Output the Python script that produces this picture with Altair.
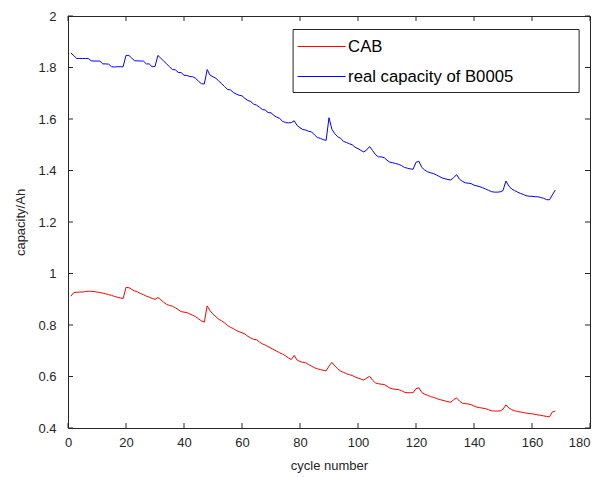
import altair as alt
import pandas as pd

# ---------------- data ----------------
cycles = list(range(1, 169))

real_capacity = [
    1.856, 1.846, 1.835, 1.835, 1.835, 1.835, 1.835, 1.826, 1.825, 1.825,
    1.825, 1.814, 1.814, 1.813, 1.803, 1.802, 1.803, 1.803, 1.803, 1.847,
    1.847, 1.836, 1.826, 1.826, 1.825, 1.825, 1.814, 1.814, 1.803, 1.804,
    1.847, 1.836, 1.825, 1.814, 1.803, 1.792, 1.791, 1.781, 1.780, 1.770,
    1.769, 1.765, 1.764, 1.758, 1.747, 1.737, 1.736, 1.792, 1.770, 1.764,
    1.758, 1.747, 1.737, 1.726, 1.715, 1.713, 1.703, 1.697, 1.692, 1.690,
    1.680, 1.672, 1.668, 1.658, 1.654, 1.646, 1.637, 1.635, 1.625, 1.624,
    1.614, 1.607, 1.602, 1.591, 1.586, 1.585, 1.586, 1.593, 1.575, 1.566,
    1.559, 1.557, 1.552, 1.550, 1.538, 1.528, 1.525, 1.520, 1.517, 1.605,
    1.560, 1.543, 1.531, 1.525, 1.513, 1.509, 1.504, 1.500, 1.490, 1.485,
    1.478, 1.472, 1.480, 1.493, 1.478, 1.462, 1.453, 1.453, 1.450, 1.440,
    1.432, 1.430, 1.427, 1.424, 1.419, 1.412, 1.409, 1.406, 1.405, 1.432,
    1.436, 1.412, 1.402, 1.395, 1.391, 1.388, 1.383, 1.377, 1.371, 1.368,
    1.365, 1.363, 1.372, 1.384, 1.366, 1.358, 1.352, 1.351, 1.349, 1.343,
    1.340, 1.337, 1.333, 1.328, 1.323, 1.318, 1.316, 1.316, 1.317, 1.322,
    1.359, 1.340, 1.328, 1.322, 1.316, 1.311, 1.307, 1.302, 1.300, 1.300,
    1.298, 1.298, 1.295, 1.292, 1.287, 1.286, 1.305, 1.324,
]

cab = [
    0.912, 0.926, 0.927, 0.928, 0.928, 0.930, 0.931, 0.931, 0.930, 0.928,
    0.926, 0.924, 0.921, 0.918, 0.915, 0.911, 0.908, 0.905, 0.903, 0.946,
    0.945, 0.938, 0.932, 0.928, 0.922, 0.918, 0.912, 0.908, 0.903, 0.900,
    0.907, 0.898, 0.888, 0.880, 0.876, 0.873, 0.867, 0.860, 0.852, 0.850,
    0.848, 0.843, 0.838, 0.832, 0.824, 0.816, 0.811, 0.874, 0.855, 0.842,
    0.832, 0.822, 0.816, 0.808, 0.798, 0.791, 0.786, 0.779, 0.774, 0.770,
    0.765, 0.756, 0.750, 0.744, 0.743, 0.734, 0.727, 0.722, 0.716, 0.710,
    0.704, 0.698, 0.692, 0.687, 0.680, 0.672, 0.666, 0.682, 0.664, 0.658,
    0.655, 0.653, 0.646, 0.640, 0.634, 0.630, 0.627, 0.624, 0.622, 0.640,
    0.655, 0.641, 0.630, 0.621, 0.616, 0.611, 0.607, 0.604, 0.598, 0.594,
    0.590, 0.586, 0.594, 0.601, 0.586, 0.575, 0.572, 0.570, 0.569, 0.562,
    0.555, 0.552, 0.550, 0.549, 0.545, 0.539, 0.537, 0.537, 0.537, 0.553,
    0.556, 0.538, 0.531, 0.527, 0.522, 0.519, 0.515, 0.511, 0.508, 0.505,
    0.502, 0.500, 0.510, 0.517, 0.504, 0.496, 0.495, 0.493, 0.491, 0.485,
    0.481, 0.479, 0.477, 0.475, 0.471, 0.467, 0.466, 0.466, 0.466, 0.473,
    0.490, 0.478, 0.471, 0.467, 0.464, 0.462, 0.460, 0.458, 0.456, 0.455,
    0.453, 0.451, 0.449, 0.447, 0.445, 0.443, 0.462, 0.466,
]

series_names = ["CAB", "real capacity of B0005"]
series_colors = ["#ff0000", "#0000ff"]
x_ticks = [0, 20, 40, 60, 80, 100, 120, 140, 160, 180]
y_ticks = [0.4, 0.6, 0.8, 1.0, 1.2, 1.4, 1.6, 1.8, 2.0]

# ---------------- tables ----------------
n = len(cycles)
df = pd.DataFrame({
    "cycle": cycles + cycles,
    "capacity": cab + real_capacity,
    "series": [series_names[0]] * n + [series_names[1]] * n,
})
xt_df = pd.DataFrame({"xt": x_ticks})
yt_df = pd.DataFrame({"yt": y_ticks})

# ---------------- styling ----------------
W, H = 522, 412
FONT = "Liberation Sans"
AX = "#262626"
TICK = 5

xs = alt.Scale(domain=[0, 180], nice=False, zero=False)
ys = alt.Scale(domain=[0.4, 2.0], nice=False, zero=False)

x_axis = alt.Axis(values=x_ticks, format="d", title="cycle number",
                  ticks=False, domain=False, grid=False,
                  labelFlush=False, labelPadding=8, titlePadding=10,
                  labelAlign={"condition": {"test": "datum.value >= 180", "value": "right"},
                              "value": "center"})
y_axis = alt.Axis(values=y_ticks, format="~g", title="capacity/Ah",
                  ticks=False, domain=False, grid=False,
                  labelFlush=False, labelPadding=12, titlePadding=10)

# legend line symbol: 48 px stroke; extra move-to point only sizes the legend frame
legend_symbol = "M20.8,0.67M-2,0H2"

lines = alt.Chart(df).mark_line(strokeWidth=1).encode(
    x=alt.X("cycle:Q", scale=xs, axis=x_axis),
    y=alt.Y("capacity:Q", scale=ys, axis=y_axis),
    color=alt.Color("series:N",
                    scale=alt.Scale(domain=series_names, range=series_colors),
                    legend=alt.Legend(
                        title=None, orient="none", legendX=224.6, legendY=13,
                        symbolType=legend_symbol, symbolSize=576,
                        symbolStrokeWidth=1, symbolOffset=11.5,
                        labelOffset=14, labelFontSize=16.7, labelFont=FONT,
                        labelColor="#000000", labelLimit=600,
                        padding=5, rowPadding=7,
                        strokeColor=AX, fillColor="#ffffff")),
)

bottom_ticks = alt.Chart(xt_df).mark_rule(color=AX, strokeWidth=1).encode(
    x=alt.X("xt:Q", scale=xs, axis=x_axis),
    y=alt.value(H), y2=alt.value(H - TICK))
top_ticks = alt.Chart(xt_df).mark_rule(color=AX, strokeWidth=1).encode(
    x=alt.X("xt:Q", scale=xs, axis=x_axis),
    y=alt.value(0), y2=alt.value(TICK))
left_ticks = alt.Chart(yt_df).mark_rule(color=AX, strokeWidth=1).encode(
    y=alt.Y("yt:Q", scale=ys, axis=y_axis),
    x=alt.value(0), x2=alt.value(TICK))
right_ticks = alt.Chart(yt_df).mark_rule(color=AX, strokeWidth=1).encode(
    y=alt.Y("yt:Q", scale=ys, axis=y_axis),
    x=alt.value(W), x2=alt.value(W - TICK))

chart = alt.layer(lines, bottom_ticks, top_ticks, left_ticks, right_ticks).properties(
    width=W, height=H,
    padding={"left": 68, "top": 16, "right": 3, "bottom": 49},
    autosize=alt.AutoSizeParams(type="none"),
    background="#ffffff",
).configure_view(
    stroke=AX, strokeWidth=1
).configure_axis(
    labelFont=FONT, labelFontSize=13, labelColor=AX,
    titleFont=FONT, titleFontSize=13, titleFontWeight="normal", titleColor=AX,
)

chart.save("out.html", embed_options={"renderer": "svg", "actions": False})
